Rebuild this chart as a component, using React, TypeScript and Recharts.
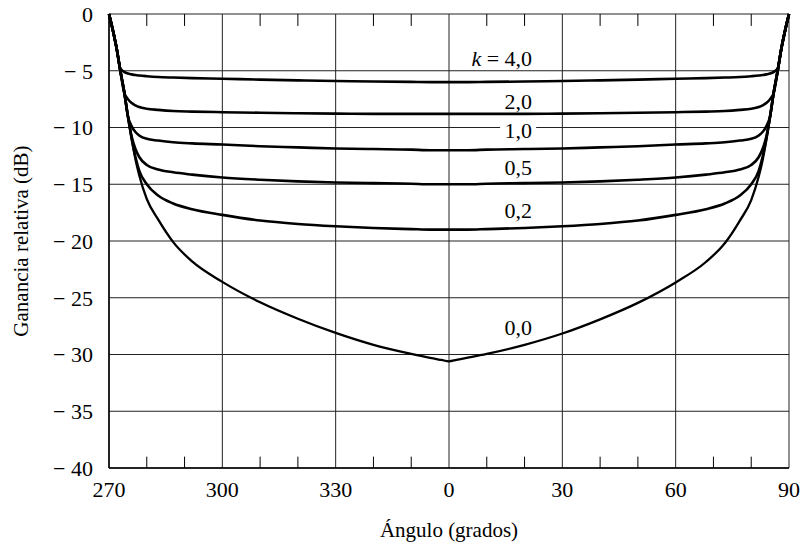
import {
  LineChart,
  Line,
  XAxis,
  YAxis,
  CartesianGrid,
  ReferenceLine,
  ReferenceDot,
} from 'recharts';

// Ángulo en grados (-90 = 270°, 0 = frente, 90)
const angles = [
  -90, -89, -88, -87, -86, -85, -84, -83, -82, -80, -77, -73, -68, -60, -50, -40, -30, -20, -10, -5, -2, 0,
  2, 5, 10, 20, 30, 40, 50, 60, 68, 73, 77, 80, 82, 83, 84, 85, 86, 87, 88, 89, 90,
];

// Ganancia relativa (dB) para cada k
const gainK40 = [
  0, -1.4, -3.0, -4.8, -5.1, -5.25, -5.32, -5.38, -5.42, -5.48, -5.55, -5.6, -5.65, -5.7, -5.78, -5.85, -5.9, -5.95, -5.98, -6.0, -6.0, -6.0,
  -6.0, -6.0, -5.98, -5.95, -5.9, -5.85, -5.78, -5.7, -5.65, -5.6, -5.55, -5.48, -5.42, -5.38, -5.32, -5.25, -5.1, -4.8, -3.0, -1.4, 0,
];
const gainK20 = [
  0, -1.4, -3.0, -5.0, -6.9, -7.5, -7.85, -8.05, -8.2, -8.35, -8.45, -8.55, -8.6, -8.65, -8.7, -8.75, -8.78, -8.8, -8.8, -8.8, -8.8, -8.8,
  -8.8, -8.8, -8.8, -8.8, -8.78, -8.75, -8.7, -8.65, -8.6, -8.55, -8.45, -8.35, -8.2, -8.05, -7.85, -7.5, -6.9, -5.0, -3.0, -1.4, 0,
];
const gainK10 = [
  0, -1.4, -3.0, -5.0, -6.8, -9.0, -9.9, -10.4, -10.7, -11.0, -11.15, -11.3, -11.4, -11.5, -11.65, -11.75, -11.85, -11.9, -11.95, -12.0, -12.0, -12.0,
  -12.0, -12.0, -11.95, -11.9, -11.85, -11.75, -11.65, -11.5, -11.4, -11.3, -11.15, -11.0, -10.7, -10.4, -9.9, -9.0, -6.8, -5.0, -3.0, -1.4, 0,
];
const gainK05 = [
  0, -1.4, -3.0, -5.0, -6.8, -9.0, -10.8, -11.9, -12.6, -13.3, -13.7, -13.95, -14.15, -14.4, -14.6, -14.75, -14.85, -14.9, -14.95, -15.0, -15.0, -15.0,
  -15.0, -15.0, -14.95, -14.9, -14.85, -14.75, -14.6, -14.4, -14.15, -13.95, -13.7, -13.3, -12.6, -11.9, -10.8, -9.0, -6.8, -5.0, -3.0, -1.4, 0,
];
const gainK02 = [
  0, -1.4, -3.0, -5.0, -6.8, -9.0, -11.0, -12.6, -13.8, -15.0, -16.0, -16.7, -17.2, -17.7, -18.2, -18.5, -18.7, -18.85, -18.95, -19.0, -19.0, -19.0,
  -19.0, -19.0, -18.95, -18.85, -18.7, -18.5, -18.2, -17.7, -17.2, -16.7, -16.0, -15.0, -13.8, -12.6, -11.0, -9.0, -6.8, -5.0, -3.0, -1.4, 0,
];
const gainK00 = [
  0, -1.4, -3.0, -5.0, -6.8, -9.0, -11.0, -12.8, -14.2, -16.3, -18.1, -20.1, -21.8, -23.6, -25.4, -26.85, -28.1, -29.15, -29.95, -30.3, -30.48, -30.6,
  -30.47, -30.28, -29.95, -29.15, -28.15, -26.9, -25.45, -23.65, -21.85, -20.2, -18.2, -16.4, -14.3, -12.9, -11.1, -9.1, -6.9, -5.1, -3.1, -1.5, 0,
];

const xTicks = [-90, -60, -30, 0, 30, 60, 90];
const xMinorTicks = [-80, -70, -50, -40, -20, -10, 10, 20, 40, 50, 70, 80];
const yTicks = [-40, -35, -30, -25, -20, -15, -10, -5, 0];

// Etiquetas de las curvas
const curveNames = ['4,0', '2,0', '1,0', '0,5', '0,2', '0,0'];
const labelAngle = [22, 22, 22, 22, 22, 22];
const labelGain = [-3.88, -7.75, -10.3, -13.5, -17.35, -27.65];

const series = [
  { key: 'k40', values: gainK40, width: 2.6 },
  { key: 'k20', values: gainK20, width: 2.6 },
  { key: 'k10', values: gainK10, width: 2.6 },
  { key: 'k05', values: gainK05, width: 2.6 },
  { key: 'k02', values: gainK02, width: 2.6 },
  { key: 'k00', values: gainK00, width: 2.3 },
];

const data = angles.map((angle, i) => {
  const row: Record<string, number> = { angle };
  series.forEach((s) => {
    row[s.key] = s.values[i];
  });
  return row;
});

const FONT = '"Liberation Serif", "Times New Roman", serif';

function CurveLabel(props: any) {
  const { viewBox, name, first, boxed } = props;
  const x = viewBox.x + (viewBox.width || 0) / 2;
  const y = viewBox.y + (viewBox.height || 0) / 2;
  return (
    <g>
      {boxed && <rect x={x - 32} y={y - 10} width={36} height={20} fill="#fff" />}
      <text
        x={x}
        y={y}
        textAnchor="end"
        dominantBaseline="central"
        fontFamily={FONT}
        fontSize={22}
        fill="#000"
      >
        {first && <tspan fontStyle="italic">k</tspan>}
        {first ? ` = ${name}` : name}
      </text>
    </g>
  );
}

function YTitle(props: any) {
  const { viewBox } = props;
  const x = viewBox.x + 9;
  const y = viewBox.y + viewBox.height / 2;
  return (
    <text
      x={x}
      y={y}
      transform={`rotate(-90 ${x} ${y})`}
      textAnchor="middle"
      fontFamily={FONT}
      fontSize={21}
      fill="#000"
    >
      Ganancia relativa (dB)
    </text>
  );
}

function XTitle(props: any) {
  const { viewBox } = props;
  return (
    <text
      x={viewBox.x + viewBox.width / 2}
      y={viewBox.y + 69}
      textAnchor="middle"
      fontFamily={FONT}
      fontSize={21}
      fill="#000"
    >
      Ángulo (grados)
    </text>
  );
}

export default function App() {
  return (
    <div style={{ position: 'absolute', left: 0, top: 0, background: '#fff' }}>
      <LineChart
        width={803}
        height={546}
        data={data}
        margin={{ top: 14, right: 14, left: 19, bottom: 38 }}
        style={{ fontFamily: FONT }}
      >
        <CartesianGrid stroke="#222" strokeWidth={1} />
        <XAxis
          dataKey="angle"
          type="number"
          domain={[-90, 90]}
          ticks={xTicks}
          height={40}
          tickLine={false}
          tickSize={6}
          tickMargin={7}
          axisLine={{ stroke: '#000', strokeWidth: 1.5 }}
          tick={{ fill: '#000', fontSize: 22, fontFamily: FONT }}
          tickFormatter={(v: number) => (v < 0 ? String(360 + v) : String(v))}
          label={<XTitle />}
        />
        <YAxis
          type="number"
          domain={[-40, 0]}
          ticks={yTicks}
          width={90}
          tickLine={false}
          tickSize={8}
          tickMargin={8}
          axisLine={{ stroke: '#000', strokeWidth: 1.5 }}
          tick={{ fill: '#000', fontSize: 22, fontFamily: FONT }}
          tickFormatter={(v: number) => (v === 0 ? '0' : `\u2212 ${Math.abs(v)}`)}
          label={<YTitle />}
        />
        {xMinorTicks.map((t) => (
          <ReferenceLine
            key={`b${t}`}
            segment={[
              { x: t, y: -40 },
              { x: t, y: -39 },
            ]}
            stroke="#000"
            strokeWidth={1}
          />
        ))}
        {xMinorTicks.map((t) => (
          <ReferenceLine
            key={`t${t}`}
            segment={[
              { x: t, y: 0 },
              { x: t, y: -1.05 },
            ]}
            stroke="#000"
            strokeWidth={1}
          />
        ))}
        {series.map((s) => (
          <Line
            key={s.key}
            dataKey={s.key}
            type="monotone"
            stroke="#000"
            strokeWidth={s.width}
            dot={false}
            activeDot={false}
            isAnimationActive={false}
          />
        ))}
        {curveNames.map((name, i) => (
          <ReferenceDot
            key={name}
            x={labelAngle[i]}
            y={labelGain[i]}
            r={0}
            fill="none"
            stroke="none"
            label={<CurveLabel name={name} first={i === 0} boxed={name === '1,0'} />}
          />
        ))}
      </LineChart>
    </div>
  );
}
